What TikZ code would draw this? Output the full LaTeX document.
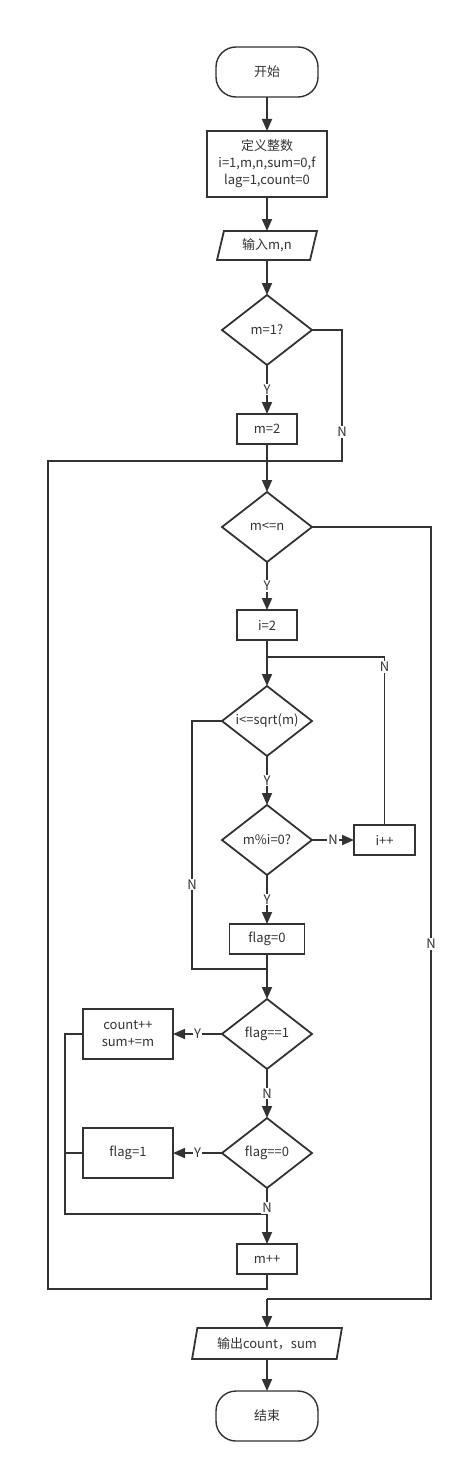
\documentclass[tikz,border=0pt]{standalone}
\usepackage{fontspec}
\newfontfamily\cjk{Noto Sans CJK SC}
\usetikzlibrary{positioning, arrows.meta, calc, shapes.geometric}
\definecolor{cInk}{HTML}{333333}

\begin{document}
\begin{tikzpicture}[font=\cjk\fontsize{13}{17}\selectfont, color=cInk, line width=1.8pt,
  every node/.style={outer sep=0pt},
  term/.style={draw,line width=1.4pt,rounded corners=20pt,minimum width=102pt,minimum height=50pt,inner sep=2pt},
  proc/.style={draw,align=center,minimum width=60pt,minimum height=30pt,inner sep=2pt},
  io/.style={draw,trapezium,trapezium left angle=75,trapezium right angle=105,trapezium stretches=true,minimum width=100pt,minimum height=29pt,inner sep=1pt},
  dec/.style={draw,diamond,aspect=1.3,minimum width=90pt,minimum height=70pt,inner sep=0pt},
  arr/.style={-{Triangle[length=12pt,width=10pt]}},
  yn/.style={fill=white,inner sep=1pt}]
  \useasboundingbox (0,0) rectangle (463pt,-1474pt);
  \node[term] (start) at (267pt,-72pt) {开始};
  \node[proc, below=34pt of start, minimum width=120pt, minimum height=66pt] (def) {定义整数\\i=1,m,n,sum=0,f\\lag=1,count=0};
  \node[io, below=34pt of def] (inp) {输入m,n};
  \node[dec, below=35pt of inp] (d1) {m=1?};
  \node[proc, below=49pt of d1] (m2) {m=2};
  \node[dec, below=48pt of m2] (d2) {m<=n};
  \node[proc, below=48pt of d2] (i2) {i=2};
  \node[dec, below=46pt of i2] (d3) {i<=sqrt(m)};
  \node[dec, below=49pt of d3] (d4) {m\%i=0?};
  \node[proc, right=42pt of d4, minimum width=61pt] (ipp) {i++};
  \node[proc, below=49pt of d4, minimum width=75pt] (f0) {flag=0};
  \node[dec, below=45pt of f0] (d5) {flag==1};
  \node[proc, left=49pt of d5, minimum width=90pt, minimum height=50pt] (cnt) {count++\\sum+=m};
  \node[dec, below=49pt of d5] (d6) {flag==0};
  \node[proc, left=49pt of d6, minimum width=90pt, minimum height=50pt] (fl1) {flag=1};
  \node[proc, below=56pt of d6] (mpp) {m++};
  \node[io, below=54pt of mpp, minimum width=150pt, minimum height=31pt] (out) {输出count，sum};
  \node[term, below=32pt of out] (end) {结束};
  % junctions
  \coordinate (j1) at ($(m2.south)+(0,-17pt)$);
  \coordinate (c1) at ($(j1)+(75pt,0)$);
  \coordinate (c2) at ($(j1)+(-219pt,0)$);
  \coordinate (j2) at ($(i2.south)+(0,-17pt)$);
  \coordinate (j3) at ($(f0.south)+(0,-15pt)$);
  \coordinate (c4) at ($(j3)+(-75pt,0)$);
  \coordinate (j4) at ($(d6.south)+(0,-26pt)$);
  \coordinate (c5) at ($(j4)+(-202pt,0)$);
  \coordinate (j5) at ($(mpp.south)+(0,-15pt)$);
  \coordinate (j6) at ($(mpp.south)+(0,-25pt)$);
  \coordinate (c3) at ($(j6)+(164pt,0)$);
  % main column
  \draw[arr] (start) -- (def);
  \draw[arr] (def) -- (inp);
  \draw[arr] (inp) -- (d1);
  \draw[arr] (d1) -- node[yn]{Y} (m2);
  \draw[arr] (m2) -- (d2);
  \draw (d1.east) -| (c1) node[yn, pos=0.89]{N} -- (j1);
  \draw[arr] (d2) -- node[yn]{Y} (i2);
  \draw[arr] (i2) -- (d3);
  \draw[arr] (d3) -- node[yn]{Y} (d4);
  \draw[arr] (d4) -- node[yn]{N} (ipp);
  \draw (ipp.north) |- (j2) node[yn, pos=0.47]{N};
  \draw[arr] (d4) -- node[yn]{Y} (f0);
  \draw (d3.west) -| (c4) node[yn, pos=0.83]{N} -- (j3);
  \draw[arr] (f0) -- (d5);
  \draw[arr] (d5) -- node[yn]{Y} (cnt);
  \draw[arr] (d5) -- node[yn]{N} (d6);
  \draw[arr] (d6) -- node[yn]{Y} (fl1);
  \draw (cnt.west) -| (c5) -- (j4);
  \draw (fl1.west) -- (fl1.west -| c5);
  \draw[arr] (d6) -- node[yn, pos=0.36]{N} (mpp);
  \draw (mpp.south) -- (j5) -| (c2) -- (j1);
  \draw (d2.east) -| (c3) node[yn, pos=0.77]{N} -- (j6);
  \draw[arr] (j6) -- (out);
  \draw[arr] (out) -- (end);
\end{tikzpicture}
\end{document}
